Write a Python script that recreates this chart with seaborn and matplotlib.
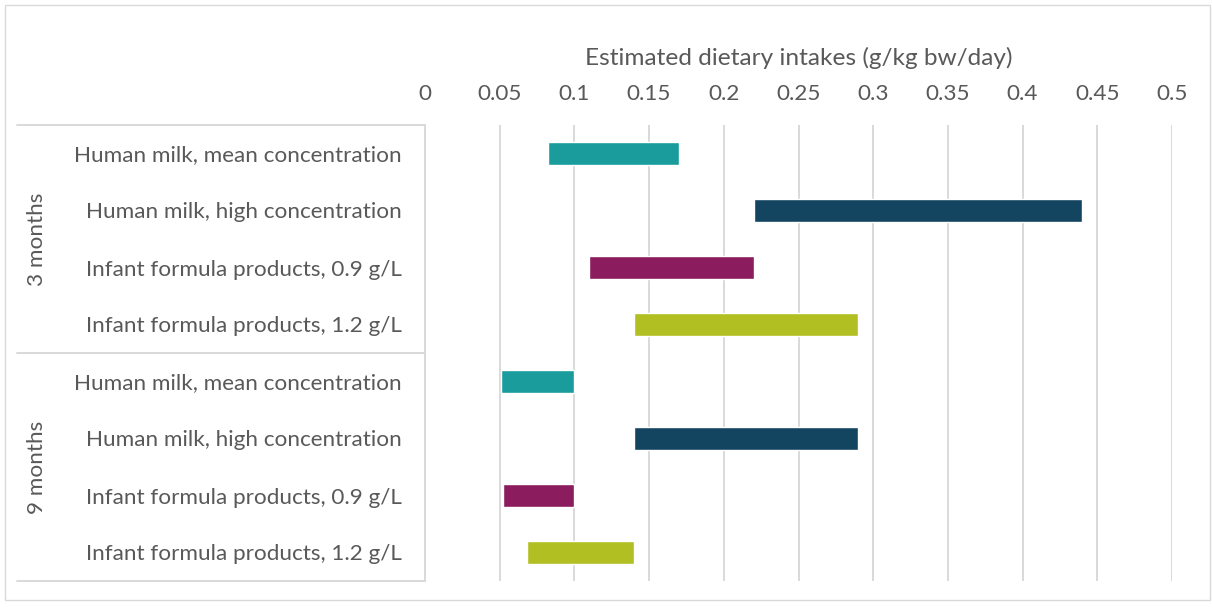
import numpy as np
import pandas as pd
import matplotlib
matplotlib.use("Agg")
import matplotlib.pyplot as plt
from matplotlib.patches import Rectangle
import seaborn as sns

# data
groups = ["3 months", "9 months"]
items = ["Human milk, mean concentration", "Human milk, high concentration",
         "Infant formula products, 0.9 g/L", "Infant formula products, 1.2 g/L"]
low_3m = [0.0825, 0.220, 0.110, 0.140]
high_3m = [0.170, 0.440, 0.220, 0.290]
low_9m = [0.051, 0.140, 0.052, 0.068]
high_9m = [0.100, 0.290, 0.100, 0.140]
colors = ["#1A9C9C", "#134460", "#8B1D5E", "#B2BF22"]
ticks = [0, 0.05, 0.1, 0.15, 0.2, 0.25, 0.3, 0.35, 0.4, 0.45, 0.5]

df = pd.DataFrame({
    "group": np.repeat(groups, len(items)),
    "item": items * 2,
    "low": low_3m + low_9m,
    "high": high_3m + high_9m,
})
df["row"] = np.arange(len(df))
df["width"] = df["high"] - df["low"]

sns.set_theme(style="white")
plt.rcParams["font.family"] = ["Lato", "DejaVu Sans"]
grey = "#595959"
line_c = "#D9D9D9"

W, H = 1213, 608
fig = plt.figure(figsize=(W / 100, H / 100), dpi=100)
ax = fig.add_axes([425 / W, 1 - 581 / H, (1172 - 425) / W, (581 - 125) / H])

# floating bars: start at low, length high - low
ax.barh(df["row"], df["width"], left=df["low"], height=0.39,
        color=[colors[i % 4] for i in range(len(df))], zorder=3)

ax.set_xlim(0, 0.5)
ax.set_ylim(len(df) - 0.5, -0.5)
ax.set_xticks(ticks)
ax.set_xticklabels([f"{t:g}" for t in ticks])
ax.xaxis.tick_top()
ax.xaxis.set_label_position("top")
ax.set_xlabel("Estimated dietary intakes (g/kg bw/day)", fontsize=17.6, color=grey, labelpad=13.5)
ax.tick_params(axis="x", length=0, pad=15, labelsize=16.2, labelcolor=grey)
ax.set_yticks(df["row"])
ax.set_yticklabels(df["item"])
ax.tick_params(axis="y", length=0, pad=17, labelsize=16.2, labelcolor=grey)

for t in ticks[1:]:
    ax.axvline(t, color=line_c, lw=1.4, zorder=1)
for s in ["top", "right", "bottom"]:
    ax.spines[s].set_visible(False)
ax.spines["left"].set_color(line_c)
ax.spines["left"].set_linewidth(1.4)

# group box lines and labels
x0 = (17 - 425) / (1172 - 425)
for yb in [-0.5, 3.5, 7.5]:
    ax.plot([x0, 0], [yb, yb], color=line_c, lw=1.4, clip_on=False,
            transform=ax.get_yaxis_transform())
gx = (37 - 425) / (1172 - 425)
for i, g in enumerate(groups):
    ax.text(gx, 1.5 + 4 * i, g, rotation=90, ha="center", va="center",
            fontsize=16.2, color=grey, transform=ax.get_yaxis_transform())

fig.patches.append(Rectangle((5 / W, 1 - 600 / H), 1205 / W, 595 / H, fill=False,
                             edgecolor=line_c, lw=1, transform=fig.transFigure))

fig.savefig("out.png", dpi=100, facecolor="white")
